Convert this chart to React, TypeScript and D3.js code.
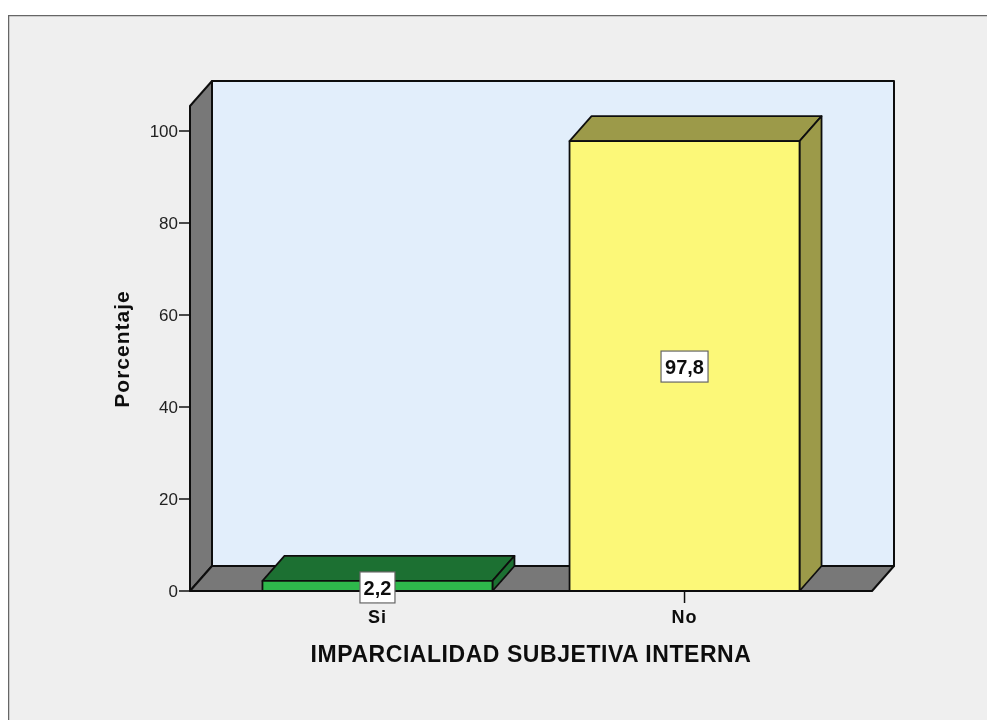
import React from "react";
import * as d3 from "d3";

const categories = ["Si", "No"];
const percentages = [2.2, 97.8];
const valueLabels = ["2,2", "97,8"];
const yTicks = [0, 20, 40, 60, 80, 100];
const frontColors = ["#2DB84B", "#FCF878"];
const topColors = ["#1F7030", "#9C9A48"];
const xTitle = "IMPARCIALIDAD SUBJETIVA INTERNA";
const yTitle = "Porcentaje";

const W = 987;
const H = 720;
const DX = 22;
const DY = 25;
const INK = "#111111";
const FONT = "'Liberation Sans', Arial, sans-serif";

const y = d3.scaleLinear().domain([0, 100]).range([591, 131]);
const x = d3.scaleBand<string>().domain(categories).range([190, 872]).paddingInner(0.251).paddingOuter(0.236);
const yTopFront = y.invert(106);

const poly = (pts: [number, number][]) => d3.line()(pts) + "Z";

export default function App() {
  const x0 = 190;
  const x1 = 872;
  const base = y(0);
  const top = y(yTopFront);
  return (
    <svg width={W} height={H} viewBox={`0 0 ${W} ${H}`} style={{ position: "absolute", left: 0, top: 0, background: "#fff" }}>
      <defs>
        <filter id="soft" x="0" y="0" width="100%" height="100%">
          <feGaussianBlur stdDeviation="0.4" />
        </filter>
      </defs>
      <g filter="url(#soft)">
        <rect x={8} y={15} width={W + 10} height={H + 10} fill="#EFEFEF" stroke="#666666" strokeWidth={2.5} />
        <g stroke={INK} strokeWidth={2} strokeLinejoin="round">
          <path d={poly([[x0 + DX, top - DY], [x1 + DX, top - DY], [x1 + DX, base - DY], [x0 + DX, base - DY]])} fill="#E2EEFB" />
          <path d={poly([[x0, top], [x0 + DX, top - DY], [x0 + DX, base - DY], [x0, base]])} fill="#787878" />
          <path d={poly([[x0, base], [x0 + DX, base - DY], [x1 + DX, base - DY], [x1, base]])} fill="#787878" />
        </g>
        {yTicks.map((t) => (
          <g key={t}>
            <line x1={x0 - 11} x2={x0} y1={y(t)} y2={y(t)} stroke={INK} strokeWidth={1.5} />
            <text x={x0 - 12} y={y(t) + 6} textAnchor="end" fontFamily={FONT} fontSize={17} fill="#222">{t}</text>
          </g>
        ))}
        {categories.map((c, i) => {
          const bx = x(c)!;
          const bw = x.bandwidth();
          const by = y(percentages[i]);
          const cx = bx + bw / 2;
          const my = (by + base) / 2;
          const boxW = i === 0 ? 35 : 47;
          return (
            <g key={c}>
              <line x1={cx} x2={cx} y1={base} y2={base + 12} stroke={INK} strokeWidth={1.5} />
              <g stroke={INK} strokeWidth={1.8} strokeLinejoin="round">
                <path d={poly([[bx, by], [bx + DX, by - DY], [bx + bw + DX, by - DY], [bx + bw, by]])} fill={topColors[i]} />
                <path d={poly([[bx + bw, by], [bx + bw + DX, by - DY], [bx + bw + DX, base - DY], [bx + bw, base]])} fill={topColors[i]} />
                <rect x={bx} y={by} width={bw} height={base - by} fill={frontColors[i]} />
              </g>
              <rect x={cx - boxW / 2} y={my - 15 - (i === 0 ? -1 : 0)} width={boxW} height={31} fill="#fff" stroke="#666" strokeWidth={1.2} />
              <text x={cx} y={my + 8 + (i === 0 ? 1 : 0)} textAnchor="middle" fontFamily={FONT} fontWeight={700} fontSize={20} fill="#111">{valueLabels[i]}</text>
              <text x={cx} y={623} textAnchor="middle" fontFamily={FONT} fontWeight={700} fontSize={18} letterSpacing={1} fill="#111">{c}</text>
            </g>
          );
        })}
        <text x={531} y={662} textAnchor="middle" fontFamily={FONT} fontWeight={700} fontSize={23} letterSpacing={0.55} fill="#111">{xTitle}</text>
        <text transform="translate(129,349) rotate(-90)" textAnchor="middle" fontFamily={FONT} fontWeight={700} fontSize={21} letterSpacing={1} fill="#111">{yTitle}</text>
      </g>
    </svg>
  );
}
